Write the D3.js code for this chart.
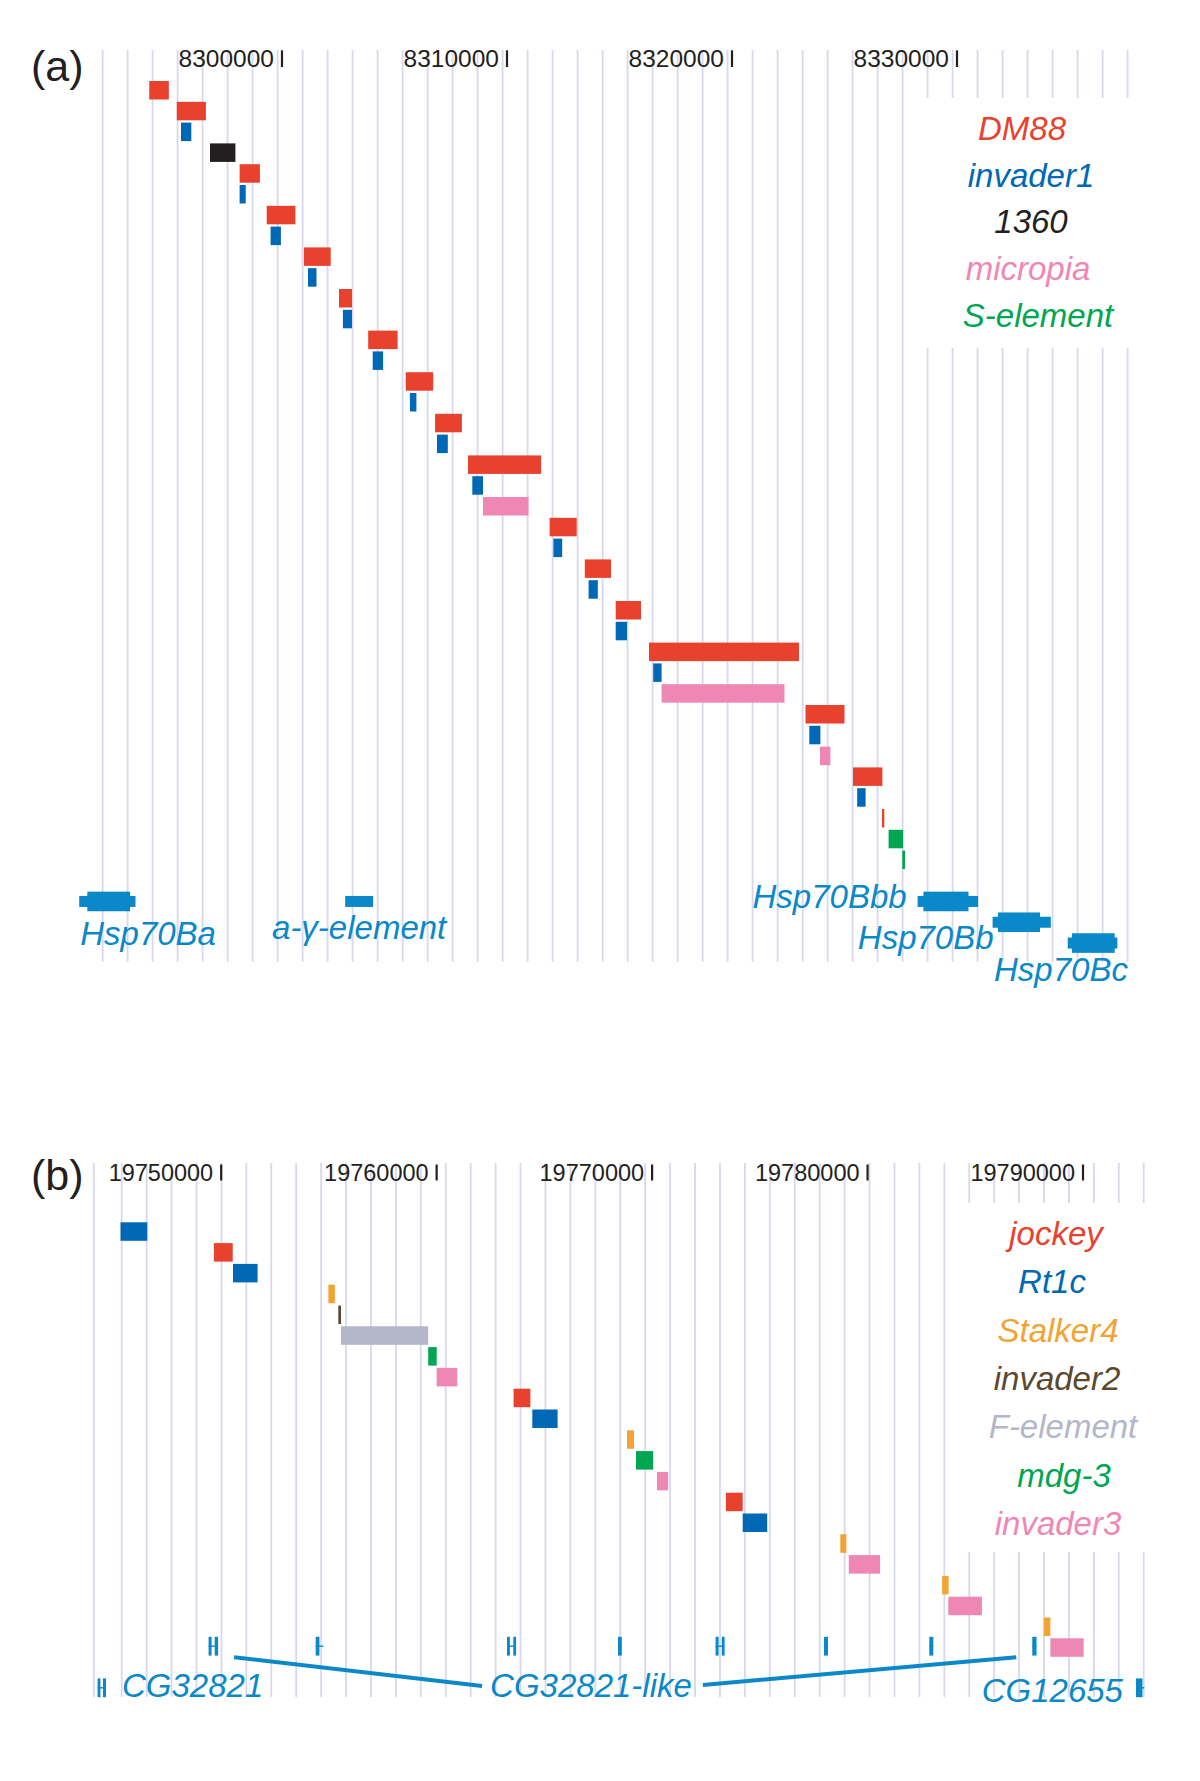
<!DOCTYPE html>
<html><head><meta charset="utf-8">
<script src="https://cdn.jsdelivr.net/npm/d3@7"></script>
<style>
body{margin:0;background:#fff}
svg{display:block}
text{font-family:"Liberation Sans",Arial,Helvetica,sans-serif}
</style>
</head><body>
<svg id="chart" width="1200" height="1781"></svg>
<script>
// ---------------- DATA: panel (a) ----------------
const aTicks = [8300000, 8310000, 8320000, 8330000];
const aLegend = ["DM88", "invader1", "1360", "micropia", "S-element"];
const aLegendColors = ["#e8412e", "#0068b4", "#231f20", "#ef87b5", "#00a651"];
// one element per row: [family, start, end]
const aElements = [
  ["DM88", 8294100, 8294970],
  ["DM88", 8295324, 8296618],
  ["invader1", 8295511, 8295969],
  ["1360", 8296800, 8297929],
  ["DM88", 8298116, 8299018],
  ["invader1", 8298116, 8298387],
  ["DM88", 8299320, 8300596],
  ["invader1", 8299493, 8299951],
  ["DM88", 8300973, 8302164],
  ["invader1", 8301156, 8301533],
  ["DM88", 8302533, 8303111],
  ["invader1", 8302707, 8303111],
  ["DM88", 8303831, 8305138],
  ["invader1", 8304031, 8304493],
  ["DM88", 8305498, 8306720],
  ["invader1", 8305684, 8305973],
  ["DM88", 8306804, 8307996],
  ["invader1", 8306889, 8307369],
  ["DM88", 8308267, 8311516],
  ["invader1", 8308458, 8308933],
  ["micropia", 8308933, 8310956],
  ["DM88", 8311893, 8313098],
  ["invader1", 8312062, 8312453],
  ["DM88", 8313458, 8314622],
  ["invader1", 8313627, 8314036],
  ["DM88", 8314831, 8315956],
  ["invader1", 8314831, 8315333],
  ["DM88", 8316311, 8322978],
  ["invader1", 8316498, 8316871],
  ["micropia", 8316871, 8322333],
  ["DM88", 8323267, 8325000],
  ["invader1", 8323436, 8323929],
  ["micropia", 8323911, 8324373],
  ["DM88", 8325378, 8326684],
  ["invader1", 8325564, 8325938],
  ["DM88", 8326667, 8326769],
  ["S-element", 8326960, 8327604],
  ["S-element", 8327569, 8327689]
];
// genes: name, start, end, cdsStart, cdsEnd, gene row (0 = first gene row)
const aGenes = [
  {name: "Hsp70Ba", start: 8290987, end: 8293489, cdsStart: 8291347, cdsEnd: 8293249, row: 0},
  {name: "a-\u03b3-element", start: 8302809, end: 8304049, cdsStart: null, cdsEnd: null, row: 0},
  {name: "Hsp70Bbb", start: 8328249, end: 8330938, cdsStart: 8328507, cdsEnd: 8330511, row: 0},
  {name: "Hsp70Bb", start: 8331582, end: 8334169, cdsStart: 8331822, cdsEnd: 8333689, row: 1},
  {name: "Hsp70Bc", start: 8334920, end: 8337129, cdsStart: 8335107, cdsEnd: 8337009, row: 2}
];

// ---------------- DATA: panel (b) ----------------
const bTicks = [19750000, 19760000, 19770000, 19780000, 19790000];
const bLegend = ["jockey", "Rt1c", "Stalker4", "invader2", "F-element", "mdg-3", "invader3"];
const bLegendColors = ["#e8412e", "#0068b4", "#f2a333", "#5b4a2f", "#b4b6c9", "#00a651", "#ef87b5"];
const bElements = [
  ["Rt1c", 19745326, 19746570],
  ["jockey", 19749661, 19750534],
  ["Rt1c", 19750548, 19751689],
  ["Stalker4", 19754976, 19755277],
  ["invader2", 19755435, 19755560],
  ["F-element", 19755560, 19759608],
  ["mdg-3", 19759608, 19760002],
  ["invader3", 19760002, 19760958],
  ["jockey", 19763571, 19764351],
  ["Rt1c", 19764440, 19765614],
  ["Stalker4", 19768835, 19769160],
  ["mdg-3", 19769253, 19770051],
  ["invader3", 19770228, 19770743],
  ["jockey", 19773425, 19774205],
  ["Rt1c", 19774205, 19775342],
  ["Stalker4", 19778735, 19779018],
  ["invader3", 19779129, 19780582],
  ["Stalker4", 19783460, 19783761],
  ["invader3", 19783748, 19785307],
  ["Stalker4", 19788184, 19788486],
  ["invader3", 19788486, 19790032]
];
// gene copies: group, row, span [start,end], exons
const bGenes = [
  {group: "CG32821", row: 22, span: [19744263, 19744653], exons: [[19744263, 19744393], [19744514, 19744653]]},
  {group: "CG32821-like", row: 20, span: [19749415, 19749856], exons: [[19749415, 19749554], [19749698, 19749856]]},
  {group: "CG32821-like", row: 20, span: [19754386, 19754744], exons: [[19754386, 19754560]]},
  {group: "CG32821-like", row: 20, span: [19763265, 19763682], exons: [[19763265, 19763400], [19763557, 19763682]]},
  {group: "CG32821-like", row: 20, span: [19768417, 19768593], exons: [[19768417, 19768593]]},
  {group: "CG32821-like", row: 20, span: [19772947, 19773356], exons: [[19772947, 19773086], [19773235, 19773356]]},
  {group: "CG32821-like", row: 20, span: [19777978, 19778164], exons: [[19777978, 19778164]]},
  {group: "CG32821-like", row: 20, span: [19782866, 19783052], exons: [[19782866, 19783052]]},
  {group: "CG32821-like", row: 20, span: [19787646, 19787841], exons: [[19787646, 19787841]]},
  {group: "CG12655", row: 22, span: [19792459, 19792845], exons: [[19792459, 19792760]]}
];

// ---------------- STYLE / LAYOUT ----------------
const GRID = "#d6d9eb", INK = "#231f20", GENE = "#0a88c8";
const FONT_LABEL = 33;
const ROW_PITCH = 20.8, ROW_H = 18.5;

const svg = d3.select("#chart");
svg.append("rect").attr("width", 1200).attr("height", 1781).attr("fill", "#fff");

function panel(cfg) {
  const g = svg.append("g");
  const x = d3.scaleLinear().domain(cfg.domain).range(cfg.range);
  const rowY = i => cfg.rowTop + i * ROW_PITCH;
  const colorOf = d3.scaleOrdinal().domain(cfg.legend).range(cfg.legendColors);

  // grid lines
  const step = cfg.gridStep;
  const gridVals = (cfg.gridExtra || []).concat(d3.range(cfg.gridCount).map(k => cfg.gridStart + k * step));
  g.append("g").selectAll("line").data(gridVals).join("line")
    .attr("x1", d => x(d)).attr("x2", d => x(d))
    .attr("y1", cfg.gridTop).attr("y2", cfg.gridBottom)
    .attr("stroke", GRID).attr("stroke-width", 1.8);

  // legend backdrop hides grid
  g.append("rect").attr("x", cfg.legendBox[0]).attr("y", cfg.legendBox[1])
    .attr("width", cfg.legendBox[2]).attr("height", cfg.legendBox[3]).attr("fill", "#fff");

  // ticks
  const tk = g.append("g");
  tk.selectAll("text").data(cfg.ticks).join("text")
    .attr("x", d => x(d) - 8).attr("y", cfg.tickBase)
    .attr("text-anchor", "end").attr("font-size", cfg.tickFont).attr("fill", INK)
    .text(d => d3.format("d")(d));
  tk.selectAll("line").data(cfg.ticks).join("line")
    .attr("x1", d => x(d)).attr("x2", d => x(d))
    .attr("y1", cfg.tickBase - cfg.tickFont * 0.68).attr("y2", cfg.tickBase)
    .attr("stroke", INK).attr("stroke-width", 2.2);

  // panel letter
  g.append("text").attr("x", 31).attr("y", cfg.letterBase).attr("font-size", 43)
    .attr("fill", INK).text(cfg.letter);

  // legend
  g.append("g").selectAll("text").data(cfg.legend).join("text")
    .attr("x", (d, i) => cfg.legendX[i]).attr("y", (d, i) => cfg.legendBase + i * cfg.legendPitch)
    .attr("text-anchor", "middle").attr("font-size", FONT_LABEL).attr("font-style", "italic")
    .attr("fill", d => colorOf(d)).text(d => d);

  // elements
  g.append("g").selectAll("rect").data(cfg.elements).join("rect")
    .attr("x", d => x(d[1]))
    .attr("width", d => Math.max(2.2, x(d[2]) - x(d[1])))
    .attr("y", (d, i) => rowY(i)).attr("height", ROW_H)
    .attr("fill", d => colorOf(d[0]));

  return {g, x, rowY};
}

// ---------------- PANEL A ----------------
const A = panel({
  letter: "(a)", letterBase: 81,
  domain: [8300000, 8330000], range: [282, 957],
  rowTop: 81,
  gridStart: 8292027, gridStep: 1111.1, gridCount: 42,
  gridTop: 50, gridBottom: 961.7,
  legendBox: [913, 98, 228, 250],
  ticks: aTicks, tickBase: 67, tickFont: 24.5,
  legend: aLegend, legendColors: aLegendColors,
  legendX: [1022, 1031, 1031, 1028, 1038], legendBase: 140, legendPitch: 46.7,
  elements: aElements
});
{
  const {g, x, rowY} = A;
  const geneRow0 = aElements.length + 1;
  const gg = g.append("g");
  aGenes.forEach(d => {
    const cy = rowY(geneRow0 + d.row) + ROW_H / 2;
    gg.append("rect").attr("x", x(d.start)).attr("width", x(d.end) - x(d.start))
      .attr("y", cy - 5.5).attr("height", 11).attr("fill", GENE);
    if (d.cdsStart != null) {
      gg.append("rect").attr("x", x(d.cdsStart)).attr("width", x(d.cdsEnd) - x(d.cdsStart))
        .attr("y", cy - 9.8).attr("height", 19.6).attr("fill", GENE);
    }
  });
  // gene labels
  const place = {
    "Hsp70Ba": d => ({x: x(d.start) + 1, anchor: "start", dy: 44}),
    "a-\u03b3-element": d => ({x: (x(d.start) + x(d.end)) / 2, anchor: "middle", dy: 38}),
    "Hsp70Bbb": d => ({x: x(d.start) - 11, anchor: "end", dy: 7}),
    "Hsp70Bb": d => ({x: x(d.start) + 1, anchor: "end", dy: 27}),
    "Hsp70Bc": d => ({x: x(d.end) + 10.5, anchor: "end", dy: 38})
  };
  aGenes.forEach(d => {
    const p = place[d.name](d);
    const cy = rowY(geneRow0 + d.row) + ROW_H / 2;
    gg.append("text").attr("x", p.x).attr("y", cy + p.dy).attr("text-anchor", p.anchor)
      .attr("font-size", FONT_LABEL).attr("font-style", "italic").attr("fill", GENE).text(d.name);
  });
}

// ---------------- PANEL B ----------------
const B = panel({
  letter: "(b)", letterBase: 1190,
  domain: [19750000, 19790000], range: [221.2, 1083],
  rowTop: 1222.3,
  gridExtra: [19744087],
  gridStart: 19745382, gridStep: 1157, gridCount: 42,
  gridTop: 1163, gridBottom: 1697,
  legendBox: [958, 1203, 194, 349],
  ticks: bTicks, tickBase: 1180.5, tickFont: 23.5,
  legend: bLegend, legendColors: bLegendColors,
  legendX: [1056, 1052, 1058, 1057, 1063, 1064, 1058], legendBase: 1245, legendPitch: 48.3,
  elements: bElements
});
{
  const {g, x, rowY} = B;
  const gg = g.append("g");
  bGenes.forEach(d => {
    const top = rowY(d.row) - 1.5, h = 18.8, cy = top + h / 2;
    gg.append("line").attr("x1", x(d.span[0])).attr("x2", x(d.span[1]))
      .attr("y1", cy).attr("y2", cy).attr("stroke", GENE).attr("stroke-width", 1.4);
    d.exons.forEach(e => {
      gg.append("rect").attr("x", x(e[0])).attr("width", Math.max(2.8, x(e[1]) - x(e[0])))
        .attr("y", top).attr("height", h).attr("fill", GENE);
    });
  });
  const likes = bGenes.filter(d => d.group === "CG32821-like");
  const first = likes[0], last = likes[likes.length - 1];
  const labelY = rowY(22) + 17;
  const likeLabel = gg.append("text").attr("x", 591).attr("y", labelY).attr("text-anchor", "middle")
    .attr("font-size", FONT_LABEL).attr("font-style", "italic").attr("fill", GENE).text("CG32821-like");
  const bb = likeLabel.node().getBBox();
  const topY = rowY(20) + ROW_H + 0.5;
  gg.append("line").attr("x1", x(first.span[1]) + 16).attr("y1", topY)
    .attr("x2", bb.x - 8).attr("y2", labelY - 11)
    .attr("stroke", GENE).attr("stroke-width", 4);
  gg.append("line").attr("x1", bb.x + bb.width + 11).attr("y1", labelY - 12)
    .attr("x2", x(last.span[0]) - 16).attr("y2", topY)
    .attr("stroke", GENE).attr("stroke-width", 4);
  const cg = bGenes.find(d => d.group === "CG32821");
  gg.append("text").attr("x", x(cg.span[1]) + 16).attr("y", labelY)
    .attr("font-size", FONT_LABEL).attr("font-style", "italic").attr("fill", GENE).text("CG32821");
  const cg2 = bGenes.find(d => d.group === "CG12655");
  gg.append("text").attr("x", x(cg2.span[0]) - 13).attr("y", labelY + 5)
    .attr("text-anchor", "end")
    .attr("font-size", FONT_LABEL).attr("font-style", "italic").attr("fill", GENE).text("CG12655");
}
</script>
</body></html>
